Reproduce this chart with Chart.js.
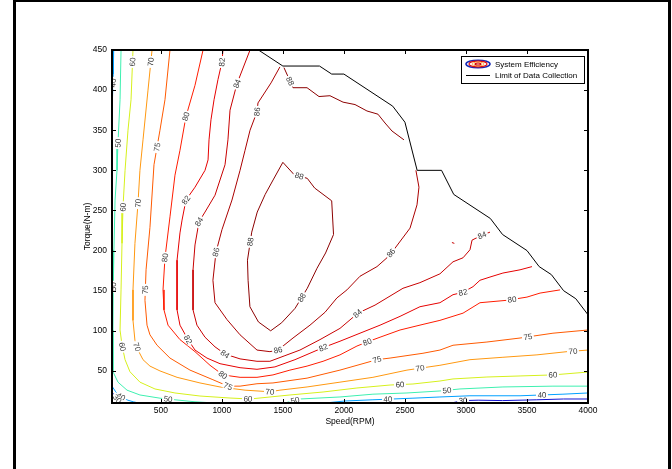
<!DOCTYPE html>
<html>
<head>
<meta charset="utf-8">
<script src="https://cdn.jsdelivr.net/npm/chart.js@4.4.1/dist/chart.umd.min.js"></script>
<style>
html,body{margin:0;padding:0;background:#fff;overflow:hidden}
#wrap{position:relative;width:672px;height:469px;overflow:hidden}
#frame{position:absolute;left:13px;top:-1px;width:652px;height:490px;border:3px solid #000;pointer-events:none}
canvas{position:absolute;left:0;top:0}
</style>
</head>
<body>
<div id="wrap"><canvas id="c" width="672" height="469"></canvas><div id="frame"></div></div>
<script>
// Axis ticks
const xTicks = [500, 1000, 1500, 2000, 2500, 3000, 3500, 4000];
const yTicks = [50, 100, 150, 200, 250, 300, 350, 400, 450];

// Contour level colours (efficiency %)
const levelColors = {
  30: '#1414d2', 40: '#00a0ff', 50: '#3ef0b0', 60: '#d6f01c', 70: '#ff9810',
  75: '#ff5a00', 80: '#ff1c00', 82: '#e60000', 84: '#c80000', 86: '#aa0000', 88: '#8c0000'
};

// Iso-efficiency lines, [speed rpm, torque N-m]
const eff30Low   = [[100,24],[120,19],[152,13.7],[172,10]];
const eff30Right = [[2880,10],[2976,13],[3100,13.5],[3300,13],[3580,14],[3800,15],[4000,15]];
const eff40Top   = [[114,450],[110,420],[104,390],[100,370]];
const eff40Low   = [[100,31],[130,24],[160,19],[193,16],[230,13.5],[274,11.5],[320,10]];
const eff40Right = [[1845,10],[2009,12.5],[2238,14],[2566,16],[2787,17.5],[3033,19],[3443,19],[3795,21],[4000,22.5]];
const eff50Left  = [[174,450],[166,388],[149,334],[141,300],[125,263],[116,201],[110,151],[108,101],[108,49],[149,36],[223,26],[329,20],[493,16],[616,14],[780,11.5],[944,10]];
const eff50Right = [[1517,10],[1640,15],[1968,17.5],[2238,21],[2517,22.5],[2787,25],[2951,27.5],[3303,30],[3713,31],[4000,31]];
const eff60 = [[272,450],[256,388],[231,350],[207,300],[190,254],[182,209],[174,151],[166,101],[182,82],[207,64],[247,49],[329,36],[452,27.5],[616,22.5],[821,18.7],[1067,16.2],[1231,15],[1558,20],[1829,23.7],[2107,28.7],[2378,32.4],[2566,33.7],[2787,37.4],[2894,40],[3172,42.4],[3443,43.7],[3713,45],[4000,48.6]];
const eff70 = [[428,450],[395,400],[354,338],[329,300],[313,259],[288,209],[272,151],[272,113],[288,88],[313,76],[354,64],[411,56],[493,50],[633,42],[821,35],[985,30],[1190,26],[1394,24],[1476,26],[1698,30],[1968,36],[2238,42],[2517,51],[2787,57],[3033,64],[3303,67],[3582,70],[3828,74],[4000,76]];
const eff75 = [[575,450],[534,388],[493,350],[469,329],[444,307],[411,229],[379,176],[370,138],[387,107],[411,95],[469,82],[575,66],[739,51],[927,39],[1050,31],[1149,31],[1288,34],[1419,35],[1698,41],[1968,51],[2271,64],[2378,66],[2648,72],[2787,76],[2894,82],[3172,86],[3443,91],[3713,97],[4000,101]];
const eff80 = [[846,450],[780,406],[706,367],[657,325],[616,294],[575,242],[534,191],[518,151],[526,126],[559,107],[657,89],[780,74],[903,57],[1009,45],[1149,42],[1288,42],[1419,45],[1558,51],[1698,56],[1829,62],[1968,70],[2107,81],[2189,86],[2296,92],[2460,101],[2648,108],[2787,113],[2976,122],[3115,135],[3336,138],[3500,142],[3607,147],[3771,151]];
const eff82 = [[1009,450],[1001,435],[968,413],[936,388],[911,363],[895,338],[887,313],[862,300],[780,279],[706,263],[674,238],[657,222],[633,188],[633,151],[633,126],[657,107],[723,89],[780,76],[878,66],[985,59],[1149,54],[1288,52],[1435,55],[1599,64],[1722,72],[1829,79],[1968,87],[2132,97],[2296,107],[2460,118],[2623,130],[2787,135],[2894,145],[2976,148],[3058,155],[3115,163],[3197,167],[3303,172],[3443,176],[3541,180]];
const eff84 = [[1231,450],[1124,408],[1067,375],[1050,338],[1026,307],[944,269],[862,248],[813,236],[780,207],[764,176],[764,151],[764,126],[796,107],[862,92],[944,80],[1026,71],[1149,65],[1288,62],[1394,62],[1517,69],[1640,76],[1804,89],[1968,103],[2115,122],[2255,132],[2484,153],[2623,160],[2787,171],[2894,186],[2976,191],[3033,201],[3050,213],[3115,218],[3197,223]];
const eff84Spot = [[2885,210],[2905,209]];
const eff86 = [[1476,429],[1403,409],[1296,384],[1288,373],[1231,350],[1190,325],[1149,300],[1083,263],[1001,226],[952,198],[927,163],[944,135],[1042,114],[1149,95],[1288,76],[1394,74],[1460,76],[1583,91],[1722,107],[1845,123],[1943,141],[2025,151],[2132,168],[2271,180],[2353,191],[2419,203],[2542,228],[2599,257],[2615,279],[2590,300]];
const eff88Edge = [[1509,428],[1583,403],[1698,403],[1796,392],[1886,393],[1993,385],[2091,382],[2189,374],[2279,370],[2337,359],[2394,349],[2492,338]];
const eff88Loop = [[1500,310],[1590,295],[1700,290],[1760,278],[1900,262],[1915,220],[1850,197],[1780,178],[1700,153],[1600,128],[1490,110],[1400,100],[1300,111],[1230,130],[1215,163],[1210,188],[1245,223],[1290,248],[1355,270],[1420,288],[1500,310]];

// Boundary of the measured operating region
const limitSpeed  = [1300,1500,1800,1900,2000,2400,2500,2600,2800,2900,3200,3300,3500,3600,3700,3800,3900,4000];
const limitTorque = [450,430,430,420,420,380,360,300,300,270,240,220,200,180,170,150,140,120];

// Which level each line belongs to
const contourPieces = [
  [30, eff30Low], [30, eff30Right],
  [40, eff40Top], [40, eff40Low], [40, eff40Right],
  [50, eff50Left], [50, eff50Right],
  [60, eff60], [70, eff70], [75, eff75], [80, eff80], [82, eff82],
  [84, eff84], [84, eff84Spot], [86, eff86], [88, eff88Edge], [88, eff88Loop]
];

// Inline level labels: [level, speed, torque]
const contourLabels = [
  [40,120,409],[60,272,435],[70,428,435],[75,469,329],[80,706,367],[82,1001,435],[84,1124,408],[86,1288,373],[88,1544,410],
  [50,149,334],[60,190,254],[70,313,259],[82,706,263],[84,813,236],[86,952,198],[80,534,191],[88,1231,211],[88,1624,288],
  [50,110,155],[75,387,151],[60,182,80],[70,305,80],[82,723,89],[84,1026,71],[80,1009,45],[75,1050,30],[40,182,20],[30,141,15],
  [50,559,14],[60,1214,15],[70,1394,23],[50,1599,14],[86,1460,76],[88,1648,142],[82,1829,80],[84,2115,121],[80,2189,87],[75,2271,64],
  [60,2460,31],[40,2361,14],[86,2386,197],[84,3132,219],[82,2976,148],[80,3377,140],[75,3508,92],[70,3877,74],[60,3713,45],
  [50,2845,25],[40,3623,20],[30,2976,14],[70,2623,55]
];

const FONT = '"Liberation Sans", Arial, Helvetica, sans-serif';

const datasets = contourPieces.map(([lv, pts]) => ({
  label: 'System Efficiency',
  level: lv,
  data: pts.map(([x, y]) => ({x, y})),
  showLine: true,
  borderColor: levelColors[lv],
  borderWidth: 1,
  pointRadius: 0,
  fill: false,
  tension: 0
}));
datasets.push({
  label: 'Limit of Data Collection',
  data: limitSpeed.map((s, i) => ({x: s, y: limitTorque[i]})),
  showLine: true,
  borderColor: '#000',
  borderWidth: 1,
  pointRadius: 0,
  fill: false,
  tension: 0
});

function projectOnLines(chart, level, px, py) {
  const {x, y} = chart.scales;
  let best = null;
  for (const [lv, pts] of contourPieces) {
    if (lv !== level) continue;
    for (let i = 0; i < pts.length - 1; i++) {
      const ax = x.getPixelForValue(pts[i][0]), ay = y.getPixelForValue(pts[i][1]);
      const bx = x.getPixelForValue(pts[i + 1][0]), by = y.getPixelForValue(pts[i + 1][1]);
      const dx = bx - ax, dy = by - ay, L = dx * dx + dy * dy || 1;
      let t = ((px - ax) * dx + (py - ay) * dy) / L;
      t = Math.max(0, Math.min(1, t));
      const qx = ax + t * dx, qy = ay + t * dy;
      const d = (qx - px) ** 2 + (qy - py) ** 2;
      if (!best || d < best.d) best = {d, qx, qy, ang: Math.atan2(dy, dx)};
    }
  }
  return best;
}

const decorations = {
  id: 'decorations',
  afterDatasetsDraw(chart) {
    const {ctx, chartArea: a, scales: {x, y}} = chart;

    // level labels, breaking the line beneath them
    ctx.save();
    ctx.beginPath();
    ctx.rect(a.left, a.top, a.right - a.left, a.bottom - a.top);
    ctx.clip();
    ctx.font = '8px ' + FONT;
    ctx.textAlign = 'center';
    ctx.textBaseline = 'middle';
    for (const [lv, s, t] of contourLabels) {
      const p = projectOnLines(chart, lv, x.getPixelForValue(s), y.getPixelForValue(t));
      if (!p) continue;
      let ang = p.ang;
      if (ang > Math.PI / 2) ang -= Math.PI;
      if (ang < -Math.PI / 2) ang += Math.PI;
      const txt = String(lv);
      const w = ctx.measureText(txt).width;
      ctx.save();
      ctx.translate(p.qx, p.qy);
      ctx.rotate(ang);
      ctx.fillStyle = '#fff';
      ctx.fillRect(-w / 2 - 1.5, -3.2, w + 3, 6.4);
      ctx.fillStyle = '#3a3a3a';
      ctx.fillText(txt, 0, 0.5);
      ctx.restore();
    }
    ctx.restore();

    // axes box with inward ticks on all sides
    ctx.save();
    ctx.strokeStyle = '#000';
    ctx.lineWidth = 1;
    for (const v of xTicks) {
      const p = Math.round(x.getPixelForValue(v)) + 0.5;
      ctx.beginPath();
      ctx.moveTo(p, a.bottom); ctx.lineTo(p, a.bottom - 4);
      ctx.moveTo(p, a.top); ctx.lineTo(p, a.top + 4);
      ctx.stroke();
    }
    for (const v of yTicks) {
      const p = Math.round(y.getPixelForValue(v)) + 0.5;
      ctx.beginPath();
      ctx.moveTo(a.left, p); ctx.lineTo(a.left + 4, p);
      ctx.moveTo(a.right, p); ctx.lineTo(a.right - 4, p);
      ctx.stroke();
    }
    ctx.lineWidth = 2;
    ctx.strokeRect(a.left, a.top, a.right - a.left, a.bottom - a.top);

    // axis titles
    ctx.fillStyle = '#000';
    ctx.font = '8.5px ' + FONT;
    ctx.textAlign = 'center';
    ctx.textBaseline = 'middle';
    ctx.fillText('Speed(RPM)', (a.left + a.right) / 2, a.bottom + 19);
    ctx.save();
    ctx.translate(a.left - 24, (a.top + a.bottom) / 2);
    ctx.rotate(-Math.PI / 2);
    ctx.fillText('Torque(N-m)', 0, 0);
    ctx.restore();

    // legend
    const lw = 123, lh = 27;
    const lx = a.right - 4 - lw, ly = a.top + 6;
    ctx.fillStyle = '#fff';
    ctx.fillRect(lx, ly, lw, lh);
    ctx.lineWidth = 1;
    ctx.strokeStyle = '#000';
    ctx.strokeRect(lx + 0.5, ly + 0.5, lw, lh);
    const r1 = ly + 8, r2 = ly + 19, cx = lx + 17;
    const rings = [[12, 3.8, '#1428b4', 1.6], [9, 2.8, '#e01010', 1.2], [6, 1.9, '#ffb040', 1], [3, 1, '#d00000', 1.2]];
    for (const [rx, ry, col, lwid] of rings) {
      ctx.beginPath();
      ctx.ellipse(cx, r1, rx, ry, 0, 0, Math.PI * 2);
      ctx.strokeStyle = col;
      ctx.lineWidth = lwid;
      ctx.stroke();
    }
    ctx.strokeStyle = '#000';
    ctx.lineWidth = 1;
    ctx.beginPath();
    ctx.moveTo(lx + 5, r2 + 0.5); ctx.lineTo(lx + 29, r2 + 0.5);
    ctx.stroke();
    ctx.fillStyle = '#000';
    ctx.font = '8px ' + FONT;
    ctx.textAlign = 'left';
    ctx.fillText('System Efficiency', lx + 34, r1 + 0.5);
    ctx.fillText('Limit of Data Collection', lx + 34, r2 + 1);
    ctx.restore();
  }
};

new Chart(document.getElementById('c'), {
  type: 'scatter',
  data: {datasets},
  options: {
    responsive: false,
    animation: false,
    devicePixelRatio: 1,
    events: [],
    layout: {padding: {left: 0, right: 84, top: 50, bottom: 0}},
    plugins: {legend: {display: false}, tooltip: {enabled: false}},
    scales: {
      x: {
        type: 'linear', min: 100, max: 4000,
        grid: {display: false, drawTicks: false},
        border: {display: false},
        ticks: {color: '#000', font: {family: FONT, size: 8.5}, padding: 3, maxRotation: 0, autoSkip: false,
                callback: v => String(v)},
        afterBuildTicks: s => { s.ticks = xTicks.map(v => ({value: v})); },
        afterFit: s => { s.height = 66; }
      },
      y: {
        type: 'linear', min: 10, max: 450,
        grid: {display: false, drawTicks: false},
        border: {display: false},
        ticks: {color: '#000', font: {family: FONT, size: 8.5}, padding: 5, autoSkip: false,
                callback: v => String(v)},
        afterBuildTicks: s => { s.ticks = yTicks.map(v => ({value: v})); },
        afterFit: s => { s.width = 112; }
      }
    }
  },
  plugins: [decorations]
});
</script>
</body>
</html>
